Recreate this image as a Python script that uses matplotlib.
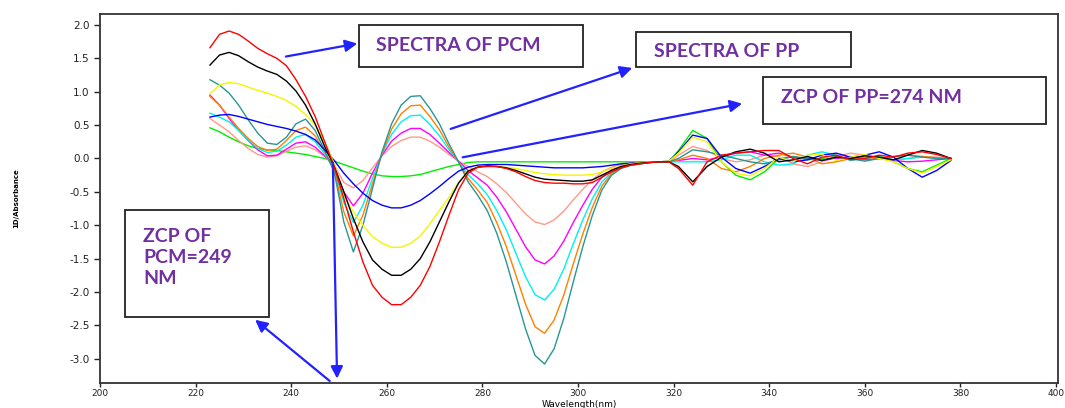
import matplotlib
matplotlib.use("Agg")
import matplotlib.pyplot as plt
from matplotlib.patches import Rectangle

plt.rcParams['axes.unicode_minus'] = False

# wavelength grid (nm)
wl = list(range(223, 322, 2)) + list(range(324, 379, 3))

red = [1.66, 1.86, 1.91, 1.86, 1.76, 1.65, 1.57, 1.50, 1.39, 1.18,
       0.93, 0.63, 0.25, -0.12, -0.60, -1.10, -1.55, -1.90, -2.08, -2.19,
       -2.19, -2.08, -1.90, -1.62, -1.25, -0.85, -0.47, -0.22, -0.13, -0.12,
       -0.12, -0.15, -0.20, -0.27, -0.33, -0.36, -0.37, -0.37, -0.38, -0.38,
       -0.36, -0.28, -0.20, -0.14, -0.10, -0.08, -0.06, -0.05, -0.05, -0.15,
       -0.40, -0.05, 0.05, 0.08, 0.10, 0.12, 0.12, 0.00, -0.08, 0.02,
       0.05, -0.02, 0.00, 0.05, 0.02, 0.08, 0.10, 0.06, 0.00]
black = [1.40, 1.55, 1.59, 1.54, 1.45, 1.37, 1.31, 1.26, 1.16, 1.01,
         0.80, 0.52, 0.18, -0.12, -0.50, -0.90, -1.25, -1.52, -1.66, -1.75,
         -1.75, -1.66, -1.50, -1.25, -0.95, -0.65, -0.37, -0.19, -0.13, -0.11,
         -0.12, -0.14, -0.18, -0.23, -0.28, -0.31, -0.32, -0.33, -0.34, -0.34,
         -0.32, -0.25, -0.18, -0.12, -0.09, -0.07, -0.06, -0.05, -0.05, -0.12,
         -0.35, -0.12, 0.02, 0.10, 0.14, 0.08, -0.05, -0.02, 0.03, -0.03,
         0.02, 0.00, 0.04, 0.02, -0.02, 0.05, 0.12, 0.08, 0.00]
yellow = [0.97, 1.10, 1.14, 1.12, 1.07, 1.02, 0.98, 0.93, 0.87, 0.78,
          0.66, 0.50, 0.25, -0.08, -0.55, -0.80, -1.00, -1.17, -1.27, -1.33,
          -1.33, -1.27, -1.16, -0.98, -0.78, -0.58, -0.36, -0.20, -0.13, -0.11,
          -0.12, -0.13, -0.15, -0.18, -0.21, -0.23, -0.24, -0.25, -0.25, -0.25,
          -0.24, -0.20, -0.15, -0.11, -0.08, -0.06, -0.05, -0.05, -0.04, 0.08,
          0.32, 0.25, -0.05, -0.22, -0.26, -0.15, 0.02, -0.05, 0.05, 0.06,
          -0.03, 0.02, 0.06, 0.00, -0.05, -0.15, -0.22, -0.12, -0.02]
blue = [0.62, 0.65, 0.66, 0.63, 0.59, 0.55, 0.51, 0.48, 0.45, 0.41,
        0.36, 0.28, 0.13, -0.03, -0.22, -0.38, -0.52, -0.63, -0.70, -0.74,
        -0.74, -0.70, -0.63, -0.53, -0.42, -0.30, -0.19, -0.13, -0.10, -0.09,
        -0.09, -0.09, -0.10, -0.11, -0.12, -0.13, -0.14, -0.14, -0.14, -0.14,
        -0.13, -0.12, -0.10, -0.08, -0.07, -0.06, -0.05, -0.05, -0.04, 0.10,
        0.35, 0.30, 0.02, -0.15, -0.22, -0.12, 0.00, -0.05, -0.02, 0.05,
        0.08, 0.02, 0.05, 0.10, 0.02, -0.15, -0.28, -0.18, -0.03]
green = [0.46, 0.40, 0.32, 0.25, 0.19, 0.15, 0.13, 0.12, 0.10, 0.08,
         0.06, 0.03, 0.00, -0.04, -0.09, -0.14, -0.19, -0.23, -0.26, -0.27,
         -0.27, -0.26, -0.24, -0.20, -0.16, -0.12, -0.09, -0.06, -0.05, -0.05,
         -0.05, -0.05, -0.05, -0.05, -0.05, -0.05, -0.05, -0.05, -0.05, -0.05,
         -0.05, -0.05, -0.05, -0.05, -0.05, -0.05, -0.05, -0.05, -0.05, 0.12,
         0.42, 0.30, -0.05, -0.25, -0.32, -0.20, 0.00, 0.03, -0.02, 0.00,
         0.03, -0.02, 0.00, 0.04, -0.05, -0.15, -0.20, -0.10, 0.00]
teal = [1.18, 1.10, 0.98, 0.80, 0.58, 0.38, 0.23, 0.21, 0.32, 0.52,
        0.59, 0.42, 0.12, -0.20, -0.95, -1.40, -1.00, -0.45, 0.10, 0.52,
        0.80, 0.93, 0.94, 0.75, 0.52, 0.22, -0.05, -0.35, -0.55, -0.78,
        -1.12, -1.55, -2.05, -2.55, -2.95, -3.08, -2.85, -2.40, -1.85, -1.32,
        -0.85, -0.47, -0.25, -0.15, -0.10, -0.08, -0.06, -0.05, -0.05, 0.00,
        0.13, 0.10, 0.05, 0.00, -0.05, -0.08, -0.02, 0.03, 0.00, -0.03,
        0.02, 0.00, -0.04, 0.00, 0.03, 0.05, 0.02, 0.00, 0.00]
orange = [0.93, 0.80, 0.62, 0.45, 0.30, 0.18, 0.12, 0.14, 0.27, 0.42,
          0.47, 0.34, 0.10, -0.18, -0.80, -1.16, -0.85, -0.38, 0.08, 0.44,
          0.67, 0.79, 0.80, 0.63, 0.43, 0.17, -0.05, -0.30, -0.47, -0.66,
          -0.96, -1.32, -1.75, -2.18, -2.52, -2.62, -2.42, -2.05, -1.58, -1.13,
          -0.73, -0.41, -0.23, -0.14, -0.10, -0.08, -0.06, -0.05, -0.05, -0.02,
          0.05, 0.00, -0.15, -0.20, -0.12, 0.00, 0.05, 0.08, 0.02, -0.08,
          -0.05, 0.00, 0.02, 0.00, 0.03, 0.05, 0.03, 0.01, 0.00]
cyan = [0.68, 0.62, 0.55, 0.42, 0.28, 0.15, 0.09, 0.11, 0.20, 0.32,
        0.36, 0.25, 0.07, -0.16, -0.66, -0.96, -0.70, -0.30, 0.07, 0.36,
        0.55, 0.64, 0.65, 0.51, 0.34, 0.13, -0.05, -0.24, -0.38, -0.54,
        -0.78, -1.07, -1.42, -1.77, -2.04, -2.12, -1.96, -1.66, -1.28, -0.92,
        -0.60, -0.35, -0.21, -0.13, -0.10, -0.08, -0.06, -0.05, -0.05, -0.05,
        -0.05, -0.05, -0.02, 0.05, 0.05, -0.05, -0.10, -0.08, 0.05, 0.10,
        0.05, -0.03, 0.00, 0.03, -0.02, 0.00, 0.02, 0.01, 0.00]
magenta = [0.95, 0.80, 0.60, 0.42, 0.27, 0.13, 0.04, 0.05, 0.14, 0.23,
           0.25, 0.17, 0.04, -0.12, -0.50, -0.71, -0.52, -0.22, 0.05, 0.26,
           0.38, 0.45, 0.45, 0.36, 0.23, 0.09, -0.04, -0.18, -0.29, -0.40,
           -0.58, -0.80, -1.06, -1.32, -1.52, -1.58, -1.46, -1.24, -0.96, -0.70,
           -0.46, -0.28, -0.17, -0.11, -0.08, -0.07, -0.06, -0.05, -0.05, -0.03,
           0.00, -0.02, 0.02, 0.08, 0.10, 0.05, 0.08, 0.02, 0.00, -0.03,
           0.00, 0.03, -0.02, 0.00, -0.03, -0.05, -0.04, -0.02, 0.00]
salmon = [0.60, 0.50, 0.40, 0.27, 0.15, 0.06, 0.02, 0.04, 0.11, 0.17,
          0.19, 0.13, 0.03, -0.10, -0.36, -0.44, -0.33, -0.14, 0.04, 0.18,
          0.27, 0.32, 0.32, 0.26, 0.17, 0.06, -0.04, -0.12, -0.20, -0.27,
          -0.38, -0.51, -0.67, -0.83, -0.95, -0.99, -0.92, -0.79, -0.62, -0.46,
          -0.32, -0.20, -0.13, -0.09, -0.07, -0.06, -0.05, -0.05, -0.05, 0.05,
          0.18, 0.12, 0.00, -0.05, -0.02, 0.05, 0.03, -0.08, -0.12, -0.05,
          0.03, 0.08, 0.05, 0.00, -0.03, 0.00, 0.03, 0.02, 0.00]

series = [
    (green, '#00ee00'), (salmon, '#ff9a8a'), (magenta, '#ff00ff'),
    (cyan, '#00f0f0'), (orange, '#ff8000'), (teal, '#2a9595'),
    (blue, '#0000ff'), (yellow, '#f5f500'), (black, '#000000'), (red, '#ff0000'),
]

xticks = [200, 220, 240, 260, 280, 300, 320, 340, 360, 380, 400]
yticks = [-3.0, -2.5, -2.0, -1.5, -1.0, -0.5, 0.0, 0.5, 1.0, 1.5, 2.0]

fig = plt.figure(figsize=(10.65, 4.08), dpi=100)
ax = fig.add_axes([100 / 1065, 1 - 383 / 408, 958 / 1065, 369 / 408])

for vals, col in series:
    ax.plot(wl, vals, color=col, lw=1.0)

ax.set_xlim(200, 400.4)
ax.set_ylim(-3.364, 2.165)
ax.set_xticks(xticks)
ax.set_yticks(yticks)
ax.set_xticklabels([str(t) for t in xticks])
ax.set_yticklabels(['%.1f' % t for t in yticks])
ax.tick_params(direction='out', length=4, width=1, labelsize=7.5, colors='#222222')
ax.tick_params(axis='x', length=3, pad=1, labelsize=6.5)
for s in ax.spines.values():
    s.set_linewidth(1.3)
    s.set_color('#333333')
ax.set_xlabel('Wavelength(nm)', fontsize=6.5, va='center')
ax.xaxis.set_label_coords(0.5, -0.059)
ax.set_ylabel('1D/Absorbance', fontsize=5, fontweight='bold', labelpad=36)

# annotation boxes
purple = '#7030a0'
boxes = [
    ((254.2, 1.37), 46.8, 0.63, 'SPECTRA OF PCM', 257.8, 1.70),
    ((312.1, 1.37), 45.0, 0.53, 'SPECTRA OF PP', 315.8, 1.60),
    ((338.7, 0.52), 59.2, 0.70, 'ZCP OF PP=274 NM', 342.5, 0.91),
    ((205.2, -2.37), 30.2, 1.60, 'ZCP OF\nPCM=249\nNM', 209.0, -1.48),
]
for (x0, y0), w, h, txt, tx, ty in boxes:
    ax.add_patch(Rectangle((x0, y0), w, h, fill=False, edgecolor='#222222', lw=1.3, zorder=5))
    ax.text(tx, ty, txt, color=purple, fontsize=14, fontweight='bold',
            family='Lato', ha='left', va='center', linespacing=1.3, zorder=6)

arrow = dict(arrowstyle='-|>', color='#2222ff', lw=1.6, mutation_scale=18)
ax.annotate('', xy=(254.4, 1.73), xytext=(238.3, 1.52), arrowprops=arrow, zorder=7)
ax.annotate('', xy=(311.9, 1.37), xytext=(272.8, 0.43), arrowprops=arrow, zorder=7)
ax.annotate('', xy=(334.9, 0.83), xytext=(275.3, 0.01), arrowprops=arrow, zorder=7)
ax.annotate('', xy=(249.6, -3.34), xytext=(248.7, -0.02), arrowprops=arrow,
            annotation_clip=False, zorder=7)
ax.annotate('', xy=(232.0, -2.39), xytext=(248.5, -3.36), arrowprops=arrow,
            annotation_clip=False, zorder=7)

fig.savefig('out.png', dpi=100)
